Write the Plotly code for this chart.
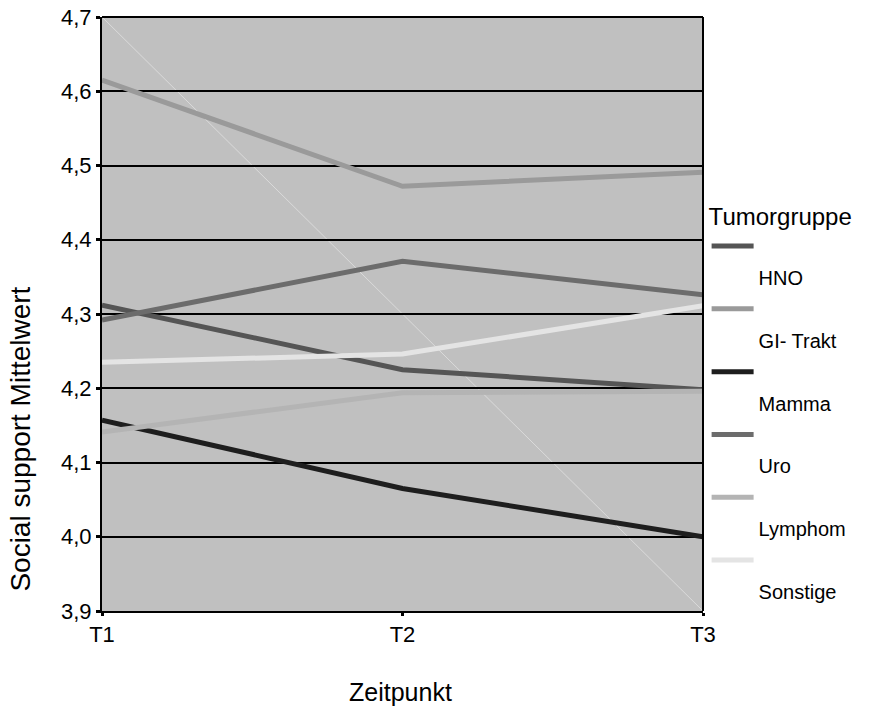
import plotly.graph_objects as go

zeitpunkte = ["T1", "T2", "T3"]
x_pos = [1, 2, 3]
gruppen = ["HNO", "GI- Trakt", "Mamma", "Uro", "Lymphom", "Sonstige"]
hno = [4.312, 4.225, 4.198]
gi_trakt = [4.615, 4.472, 4.491]
mamma = [4.157, 4.065, 4.0]
uro = [4.292, 4.371, 4.326]
lymphom = [4.141, 4.194, 4.196]
sonstige = [4.235, 4.246, 4.311]
y_ticks = [3.9, 4.0, 4.1, 4.2, 4.3, 4.4, 4.5, 4.6, 4.7]

series = [hno, gi_trakt, mamma, uro, lymphom, sonstige]
colors = ["#555555", "#9a9a9a", "#1e1e1e", "#6c6c6c", "#b4b4b4", "#e4e4e4"]

fig = go.Figure()
for i, (name, vals, col) in enumerate(zip(gruppen, series, colors)):
    fig.add_trace(go.Scatter(
        x=x_pos, y=vals, mode="lines",
        name="<br><span style='font-size:20px'>" + name + "</span>",
        line=dict(color=col, width=5), legendgroup=str(i),
    ))

fig.add_shape(type="line", xref="paper", yref="paper", x0=0, y0=1, x1=1, y1=0,
              line=dict(color="#dadada", width=1), layer="below")

fig.update_layout(
    template="none",
    width=877, height=717,
    margin=dict(l=102, r=174, t=17, b=106),
    paper_bgcolor="white", plot_bgcolor="#c0c0c0",
    separators=",.",
    font=dict(family="Liberation Sans, Arial", color="black", size=16),
    showlegend=True,
    legend=dict(
        title=dict(text="Tumorgruppe", font=dict(size=24)),
        x=1.006, xanchor="left", y=0.703, yanchor="top",
        font=dict(size=23), valign="top", tracegroupgap=0,
        itemwidth=42,
        bgcolor="rgba(0,0,0,0)",
    ),
    xaxis=dict(
        range=[1, 3], tickvals=x_pos, ticktext=zeitpunkte,
        tickfont=dict(size=22, color="black", family="Liberation Sans, Arial"),
        showgrid=False, zeroline=False, automargin=False,
        showline=True, linecolor="black", linewidth=2,
        ticks="outside", ticklen=3, tickwidth=3, tickcolor="black",
    ),
    yaxis=dict(
        range=[3.9, 4.7], tickvals=y_ticks,
        ticktext=[f"{v:.1f}".replace(".", ",") for v in y_ticks],
        tickfont=dict(size=22, color="black", family="Liberation Sans, Arial"),
        showgrid=True, gridcolor="black", gridwidth=1.5, zeroline=False,
        automargin=False,
        showline=True, linecolor="black", linewidth=2, mirror=False,
        ticks="outside", ticklen=4, tickwidth=3, tickcolor="black",
    ),
    annotations=[
        dict(text="Social support Mittelwert", xref="paper", yref="paper",
             x=-0.135, y=0.29, textangle=-90, showarrow=False,
             font=dict(size=28), xanchor="center", yanchor="middle"),
        dict(text="Zeitpunkt", xref="paper", yref="paper",
             x=0.496, y=-0.137, showarrow=False, font=dict(size=25),
             xanchor="center", yanchor="middle"),
    ],
)
fig.add_shape(type="line", xref="paper", yref="paper", x0=0, y0=1, x1=1, y1=1,
              line=dict(color="black", width=2))
fig.add_shape(type="line", xref="paper", yref="paper", x0=1, y0=0, x1=1, y1=1,
              line=dict(color="black", width=2))

fig.write_html("out.html")
